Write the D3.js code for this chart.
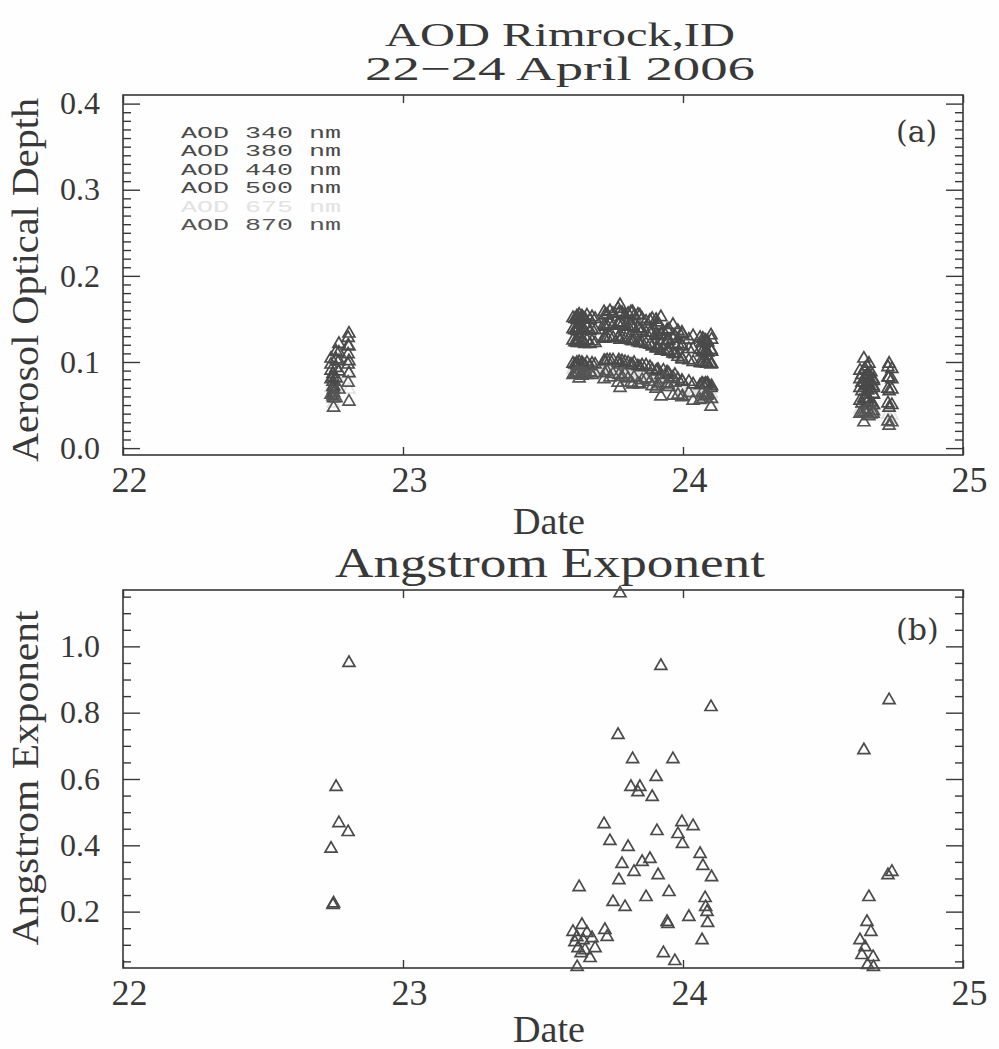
<!DOCTYPE html>
<html>
<head>
<meta charset="utf-8">
<script src="https://cdn.jsdelivr.net/npm/d3@7"></script>
<style>
  body { margin: 0; background: #fff; }
  text { font-family: "Liberation Serif", "Times New Roman", serif; }
</style>
</head>
<body>
<script>
// sample times (day of April 2006), shared by all series
var dates = [
  22.743, 22.750, 22.752, 22.761, 22.771, 22.804, 22.807,
  23.607, 23.614, 23.621, 23.622, 23.625, 23.629, 23.636, 23.639, 23.643, 23.650,
  23.657, 23.668, 23.675, 23.686, 23.718, 23.721, 23.729, 23.739, 23.750, 23.768,
  23.771, 23.775, 23.782, 23.793, 23.804, 23.814, 23.820, 23.825, 23.839, 23.846,
  23.854, 23.868, 23.882, 23.890, 23.904, 23.907, 23.911, 23.921, 23.930, 23.943,
  23.946, 23.950, 23.964, 23.971, 23.982, 23.996, 23.998, 24.021, 24.036, 24.061,
  24.068, 24.071, 24.079, 24.081, 24.086, 24.088, 24.100, 24.102,
  24.632, 24.639, 24.646, 24.650, 24.657, 24.659, 24.664, 24.671, 24.679, 24.680,
  24.732, 24.736, 24.746
];

var aod340 = [
  0.104, 0.086, 0.072, 0.112, 0.121, 0.128, 0.133,
  0.151, 0.150, 0.153, 0.149, 0.152, 0.155, 0.150, 0.153, 0.151, 0.150,
  0.154, 0.149, 0.152, 0.150, 0.158, 0.154, 0.155, 0.159, 0.156, 0.162,
  0.157, 0.166, 0.157, 0.154, 0.156, 0.158, 0.158, 0.153, 0.155, 0.154,
  0.150, 0.147, 0.148, 0.150, 0.149, 0.146, 0.143, 0.152, 0.135, 0.137,
  0.136, 0.138, 0.143, 0.130, 0.136, 0.134, 0.132, 0.126, 0.130, 0.128,
  0.122, 0.127, 0.125, 0.124, 0.124, 0.123, 0.131, 0.126,
  0.090, 0.085, 0.104, 0.092, 0.095, 0.083, 0.098, 0.088, 0.080, 0.078,
  0.094, 0.098, 0.092
];
var aod380 = [
  0.097, 0.082, 0.068, 0.103, 0.111, 0.119, 0.118,
  0.138, 0.137, 0.139, 0.136, 0.138, 0.140, 0.137, 0.139, 0.137, 0.136,
  0.140, 0.136, 0.138, 0.137, 0.143, 0.141, 0.142, 0.144, 0.142, 0.145,
  0.143, 0.146, 0.143, 0.141, 0.141, 0.142, 0.141, 0.139, 0.139, 0.138,
  0.136, 0.134, 0.134, 0.134, 0.133, 0.131, 0.130, 0.132, 0.125, 0.125,
  0.124, 0.125, 0.127, 0.120, 0.121, 0.119, 0.118, 0.115, 0.115, 0.114,
  0.111, 0.113, 0.112, 0.112, 0.111, 0.111, 0.114, 0.112,
  0.080, 0.076, 0.090, 0.082, 0.084, 0.075, 0.086, 0.078, 0.072, 0.070,
  0.082, 0.082, 0.080
];
var aod440 = [
  0.090, 0.077, 0.064, 0.093, 0.101, 0.109, 0.101,
  0.125, 0.123, 0.124, 0.122, 0.123, 0.126, 0.122, 0.125, 0.123, 0.121,
  0.125, 0.121, 0.124, 0.122, 0.128, 0.127, 0.128, 0.129, 0.128, 0.128,
  0.129, 0.126, 0.128, 0.127, 0.126, 0.125, 0.124, 0.125, 0.123, 0.122,
  0.122, 0.121, 0.120, 0.118, 0.116, 0.116, 0.116, 0.113, 0.114, 0.113,
  0.112, 0.112, 0.110, 0.109, 0.106, 0.104, 0.103, 0.102, 0.100, 0.099,
  0.099, 0.099, 0.099, 0.099, 0.098, 0.098, 0.097, 0.098,
  0.070, 0.066, 0.076, 0.072, 0.073, 0.067, 0.074, 0.068, 0.063, 0.062,
  0.069, 0.066, 0.068
];
var aod500 = [
  0.080, 0.071, 0.058, 0.081, 0.089, 0.097, 0.087,
  0.098, 0.097, 0.099, 0.096, 0.097, 0.100, 0.096, 0.099, 0.097, 0.096,
  0.099, 0.095, 0.098, 0.097, 0.101, 0.101, 0.102, 0.102, 0.102, 0.099,
  0.102, 0.097, 0.101, 0.100, 0.099, 0.097, 0.096, 0.099, 0.095, 0.094,
  0.096, 0.096, 0.094, 0.091, 0.089, 0.090, 0.091, 0.085, 0.090, 0.088,
  0.087, 0.086, 0.082, 0.085, 0.080, 0.078, 0.077, 0.077, 0.074, 0.073,
  0.075, 0.074, 0.074, 0.075, 0.074, 0.075, 0.070, 0.072,
  0.055, 0.052, 0.058, 0.057, 0.057, 0.054, 0.057, 0.053, 0.050, 0.050,
  0.052, 0.047, 0.050
];
var aod675 = [
  0.070, 0.065, 0.052, 0.069, 0.078, 0.086, 0.068,
  0.091, 0.090, 0.092, 0.091, 0.091, 0.090, 0.090, 0.091, 0.091, 0.090,
  0.092, 0.091, 0.091, 0.090, 0.090, 0.094, 0.095, 0.091, 0.093, 0.086,
  0.092, 0.082, 0.091, 0.092, 0.089, 0.085, 0.083, 0.089, 0.083, 0.082,
  0.086, 0.087, 0.084, 0.080, 0.078, 0.080, 0.082, 0.071, 0.084, 0.080,
  0.080, 0.078, 0.070, 0.079, 0.070, 0.067, 0.067, 0.069, 0.063, 0.063,
  0.068, 0.064, 0.065, 0.066, 0.066, 0.067, 0.057, 0.063,
  0.045, 0.044, 0.042, 0.047, 0.046, 0.047, 0.045, 0.044, 0.043, 0.045,
  0.039, 0.033, 0.038
];
var aod870 = [
  0.062, 0.060, 0.047, 0.058, 0.068, 0.076, 0.054,
  0.085, 0.086, 0.086, 0.088, 0.087, 0.081, 0.087, 0.084, 0.086, 0.086,
  0.085, 0.088, 0.085, 0.087, 0.080, 0.087, 0.089, 0.082, 0.086, 0.076,
  0.085, 0.070, 0.083, 0.086, 0.081, 0.076, 0.074, 0.082, 0.075, 0.074,
  0.079, 0.081, 0.077, 0.072, 0.069, 0.072, 0.075, 0.060, 0.080, 0.075,
  0.074, 0.071, 0.061, 0.076, 0.062, 0.059, 0.060, 0.064, 0.055, 0.056,
  0.064, 0.057, 0.060, 0.061, 0.061, 0.062, 0.048, 0.057,
  0.040, 0.040, 0.030, 0.042, 0.040, 0.045, 0.037, 0.039, 0.040, 0.043,
  0.031, 0.026, 0.030
];

var angstrom = [
  0.39, 0.22, 0.225, 0.576, 0.467, 0.44, 0.95,
  0.139, 0.108, 0.123, 0.033, 0.09, 0.274, 0.075, 0.16, 0.114, 0.084,
  0.136, 0.06, 0.12, 0.09, 0.464, 0.145, 0.124, 0.413, 0.229, 0.733,
  0.295, 1.16, 0.344, 0.214, 0.395, 0.576, 0.66, 0.32, 0.56, 0.576,
  0.35, 0.244, 0.359, 0.546, 0.606, 0.443, 0.31, 0.941, 0.075, 0.169,
  0.163, 0.259, 0.66, 0.051, 0.434, 0.47, 0.404, 0.184, 0.458, 0.374,
  0.114, 0.338, 0.241, 0.214, 0.199, 0.166, 0.817, 0.304,
  0.114, 0.069, 0.687, 0.093, 0.169, 0.039, 0.244, 0.139, 0.063, 0.033,
  0.31, 0.838, 0.32
];

var legendLabels = ["AOD 340 nm", "AOD 380 nm", "AOD 440 nm", "AOD 500 nm", "AOD 675 nm", "AOD 870 nm"];
var seriesColors = ["#4a4a4a", "#4a4a4a", "#4a4a4a", "#4a4a4a", "#e2e2e2", "#555555"];
var xTicks = [22, 23, 24, 25];
var aodTicks = [0.0, 0.1, 0.2, 0.3, 0.4];
var angTicks = [0.2, 0.4, 0.6, 0.8, 1.0];

var series = [aod340, aod380, aod440, aod500, aod675, aod870];

var width = 999, height = 1049;
var left = 123, right = 963;
var ink = "#383838";

var svg = d3.select("body").append("svg")
  .attr("width", width)
  .attr("height", height);

svg.append("rect").attr("width", width).attr("height", height).attr("fill", "#fefefe");

var x = d3.scaleLinear().domain([22, 25]).range([left, right]);
var yAod = d3.scaleLinear().domain([-0.008, 0.41]).range([455, 95]);
var yAng = d3.scaleLinear().domain([0.03, 1.17]).range([968, 590]);

var tri = d3.symbol().type(d3.symbolTriangle).size(62);

// text helper, len stretches the glyphs like the old plotter font
function label(txt, px, py, size, len, rot) {
  var t = svg.append("text")
    .attr("text-anchor", "middle")
    .attr("font-size", size)
    .style("fill", ink)
    .text(txt);
  if (len) t.attr("textLength", len).attr("lengthAdjust", "spacingAndGlyphs");
  if (rot) t.attr("transform", "translate(" + px + "," + py + ")rotate(-90)");
  else t.attr("x", px).attr("y", py);
  return t;
}

function styleAxis(g, size) {
  g.select(".domain").remove();
  g.selectAll(".tick line").attr("stroke", ink).attr("stroke-width", 1.4);
  g.selectAll(".tick text")
    .style("fill", ink)
    .style("font-family", '"Liberation Serif", serif')
    .style("font-size", size + "px");
}

function frame(y, majors, minorStep) {
  var top = y.range()[1], bot = y.range()[0];
  var minors = d3.range(Math.ceil(y.domain()[0] / minorStep - 1e-6) * minorStep, y.domain()[1], minorStep)
    .filter(function (v) { return majors.every(function (m) { return Math.abs(m - v) > 1e-6; }); });

  var g = svg.append("g");

  g.append("g").attr("transform", "translate(0," + bot + ")")
    .call(d3.axisBottom(x).tickValues(xTicks).tickSize(-8).tickPadding(11).tickFormat(d3.format("d")))
    .call(styleAxis, 36)
    .selectAll(".tick text").attr("dx", 6);

  g.append("g").attr("transform", "translate(0," + top + ")")
    .call(d3.axisTop(x).tickValues(xTicks).tickSize(-8).tickFormat(""))
    .call(styleAxis, 10);

  g.append("g").attr("transform", "translate(" + left + ",0)")
    .call(d3.axisLeft(y).tickValues(majors).tickSize(-17).tickPadding(23).tickFormat(d3.format(".1f")))
    .call(styleAxis, 32);
  g.append("g").attr("transform", "translate(" + left + ",0)")
    .call(d3.axisLeft(y).tickValues(minors).tickSize(-8).tickFormat(""))
    .call(styleAxis, 10);

  g.append("g").attr("transform", "translate(" + right + ",0)")
    .call(d3.axisRight(y).tickValues(majors).tickSize(-17).tickFormat(""))
    .call(styleAxis, 10);
  g.append("g").attr("transform", "translate(" + right + ",0)")
    .call(d3.axisRight(y).tickValues(minors).tickSize(-8).tickFormat(""))
    .call(styleAxis, 10);

  g.append("rect")
    .attr("x", left).attr("y", top)
    .attr("width", right - left).attr("height", bot - top)
    .attr("fill", "none").attr("stroke", ink).attr("stroke-width", 1.6);
}

// ---- titles
label("AOD Rimrock,ID", 560, 46, 34, 350);
label("22\u221224 April 2006", 560, 80, 34, 390);

// ---- panel (a)
frame(yAod, aodTicks, 0.01);

// light series first so the dark ones sit on top
[4, 0, 1, 2, 3, 5].forEach(function (k) {
  svg.append("g").selectAll("path")
    .data(dates.map(function (d, i) { return [d, series[k][i]]; }))
    .enter().append("path")
    .attr("d", tri)
    .attr("transform", function (d) { return "translate(" + x(d[0]) + "," + yAod(d[1]) + ")"; })
    .attr("fill", "none")
    .attr("stroke", seriesColors[k])
    .attr("stroke-width", 1.7);
});

svg.append("g").selectAll("text")
  .data(legendLabels)
  .enter().append("text")
  .attr("x", 181)
  .attr("y", function (d, i) { return 138 + i * 18.4; })
  .attr("textLength", 160)
  .attr("lengthAdjust", "spacingAndGlyphs")
  .style("font-family", '"Liberation Mono", monospace')
  .style("font-size", "16px")
  .style("fill", function (d, i) { return seriesColors[i]; })
  .text(function (d) { return d; });

svg.append("text").attr("x", 896).attr("y", 142)
  .style("font-family", '"DejaVu Serif", serif').style("font-size", "30px").style("fill", ink).text("(a)");

label("Aerosol Optical Depth", 38, 280, 38, 364, true);
label("Date", 549, 534, 38, 72);

// ---- panel (b)
label("Angstrom Exponent", 550, 577, 42, 430);
frame(yAng, angTicks, 0.05);

svg.append("g").selectAll("path")
  .data(dates.map(function (d, i) { return [d, angstrom[i]]; }))
  .enter().append("path")
  .attr("d", tri)
  .attr("transform", function (d) { return "translate(" + x(d[0]) + "," + yAng(d[1]) + ")"; })
  .attr("fill", "none")
  .attr("stroke", "#4a4a4a")
  .attr("stroke-width", 1.7);

svg.append("text").attr("x", 896).attr("y", 640)
  .style("font-family", '"DejaVu Serif", serif').style("font-size", "30px").style("fill", ink).text("(b)");

label("Angstrom Exponent", 38, 778, 38, 335, true);
label("Date", 549, 1042, 38, 72);
</script>
</body>
</html>
